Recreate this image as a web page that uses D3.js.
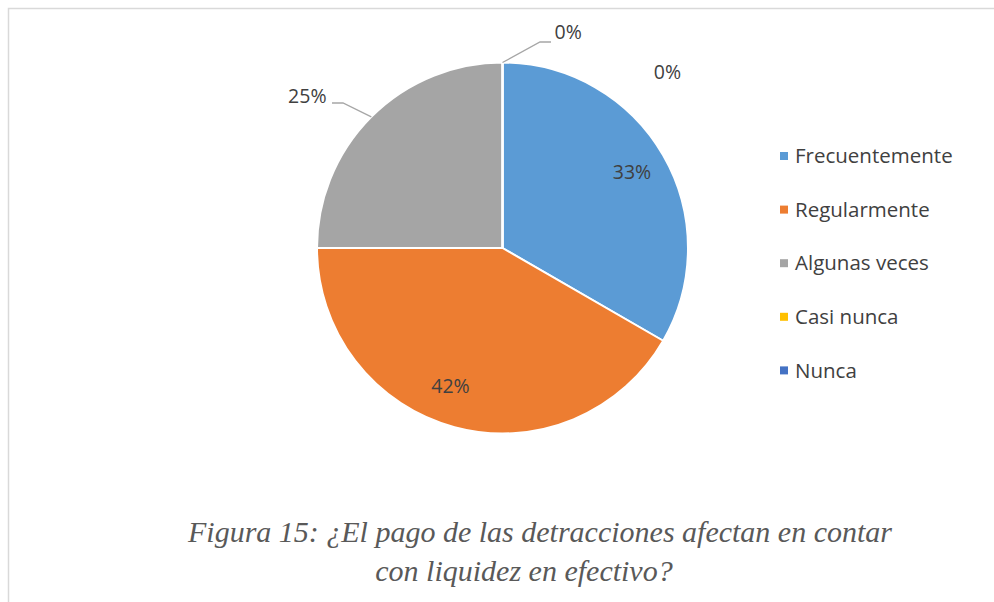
<!DOCTYPE html>
<html lang="es">
<head>
<meta charset="UTF-8" />
<script src="https://d3js.org/d3.v7.min.js"></script>
<style>
  html, body { margin: 0; padding: 0; background: #fff; }
  svg { display: block; }
</style>
</head>
<body>
<svg id="chart" width="994" height="602"></svg>
<script>
// datos
var categorias = ["Frecuentemente", "Regularmente", "Algunas veces", "Casi nunca", "Nunca"];
var valores = [4, 5, 3, 0, 0];
var colores = ["#5b9bd5", "#ed7d31", "#a5a5a5", "#ffc000", "#4472c4"];
var titulo = ["Figura 15: \u00bfEl pago de las detracciones afectan en contar", "con liquidez en efectivo?"];

var width = 994, height = 602;
var cx = 502.5, cy = 248, radius = 185.5;

var svg = d3.select("#chart");

// marco de la imagen (solo arriba e izquierda)
svg.append("path")
  .attr("d", "M8.5,602 V8.5 H994")
  .attr("fill", "none")
  .attr("stroke", "#d9d9d9")
  .attr("stroke-width", 1.5);

var total = d3.sum(valores);
var datos = categorias.map(function (c, i) { return { name: c, value: valores[i], color: colores[i] }; });

var pie = d3.pie().sort(null).value(function (d) { return d.value; });
var arc = d3.arc().innerRadius(0).outerRadius(radius);
var arcs = pie(datos);

var g = svg.append("g").attr("transform", "translate(" + cx + "," + cy + ")");

g.selectAll("path.slice")
  .data(arcs)
  .join("path")
  .attr("class", "slice")
  .attr("d", arc)
  .attr("fill", function (d) { return d.data.color; })
  .attr("stroke", "#fff")
  .attr("stroke-width", 2);

var fmt = function (d) { return Math.round(d.data.value / total * 100) + "%"; };
var fontLbl = "'Open Sans', Carlito, sans-serif";

// posicion de cada etiqueta relativa al centro (como las deja Excel)
var labelPos = [
  { x: 129.5, y: -76, anchor: "middle", line: null },
  { x: -52, y: 138, anchor: "middle", line: null },
  { x: -176, y: -152, anchor: "end", line: [[-170.5, -145], [-159.5, -145]] },
  { x: 52, y: -215.5, anchor: "start", line: [[48.5, -206], [37.5, -206]] },
  { x: 165, y: -175.5, anchor: "middle", line: null }
];

arcs.forEach(function (d, i) {
  var p = labelPos[i];
  g.append("text")
    .attr("x", p.x).attr("y", p.y)
    .attr("text-anchor", p.anchor)
    .attr("dy", "0.35em")
    .attr("fill", "#404040")
    .style("font-family", fontLbl)
    .style("font-size", "19.5px")
    .text(fmt(d));
  if (p.line) {
    // linea guia hacia el borde de la porcion
    var a = (d.startAngle + d.endAngle) / 2;
    var edge = [Math.sin(a) * radius, -Math.cos(a) * radius];
    g.append("polyline")
      .attr("points", p.line.concat([edge]).map(function (q) { return q.join(","); }).join(" "))
      .attr("fill", "none")
      .attr("stroke", "#a6a6a6")
      .attr("stroke-width", 1.3);
  }
});

// leyenda
var leg = svg.append("g").attr("transform", "translate(780,156)");
var items = leg.selectAll("g")
  .data(datos)
  .join("g")
  .attr("transform", function (d, i) { return "translate(0," + i * 53.6 + ")"; });
items.append("rect")
  .attr("x", 0).attr("y", -4)
  .attr("width", 8).attr("height", 8)
  .attr("fill", function (d) { return d.color; });
items.append("text")
  .attr("x", 15).attr("y", 0)
  .attr("dy", "0.35em")
  .attr("fill", "#404040")
  .style("font-family", fontLbl)
  .style("font-size", "20.5px")
  .text(function (d) { return d.name; });

// titulo de la figura
svg.append("g").selectAll("text")
  .data(titulo)
  .join("text")
  .attr("x", function (d, i) { return i === 0 ? 540 : 524; })
  .attr("y", function (d, i) { return 542 + i * 39; })
  .attr("text-anchor", "middle")
  .attr("fill", "#595959")
  .style("font-family", "'Liberation Serif', 'Times New Roman', serif")
  .style("font-style", "italic")
  .style("font-size", "30px")
  .text(function (d) { return d; });
</script>
</body>
</html>
